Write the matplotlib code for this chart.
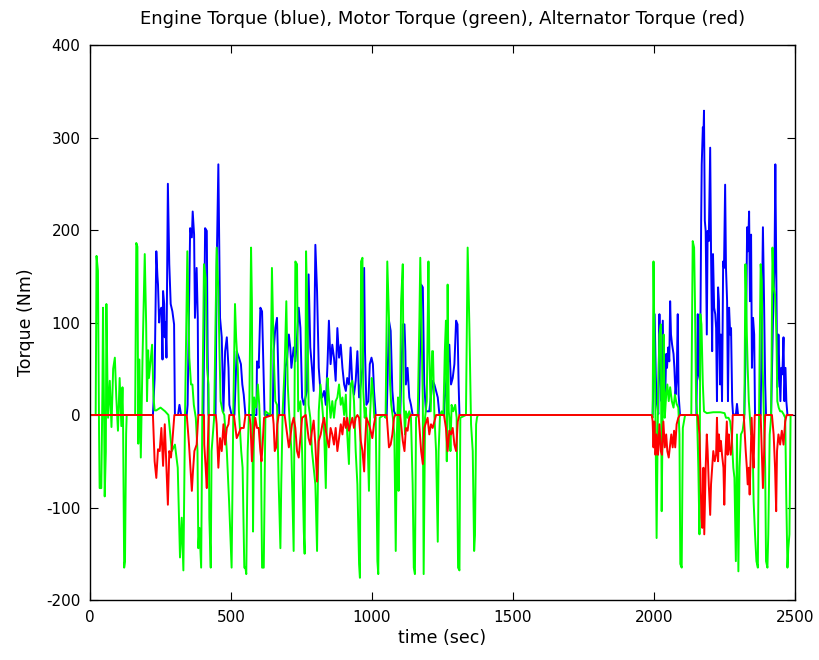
import matplotlib
matplotlib.use("Agg")
import matplotlib.pyplot as plt

plt.rcParams["axes.unicode_minus"] = False

# values (time in s, torque in Nm)
engine_t = [0, 222, 223, 229, 235, 239, 241, 245, 247, 253, 257, 259, 263, 265, 268, 271, 276,
            281, 286, 292, 298, 301, 312, 317, 323, 343, 346, 355, 361, 364, 369, 372, 378, 382,
            384, 402, 408, 414, 417, 420, 445, 449, 455, 461, 467, 473, 479, 485, 491, 494, 502,
            512, 520, 528, 535, 540, 545, 551, 590, 592, 598, 604, 610, 613, 619, 648, 651, 657,
            663, 667, 671, 689, 693, 699, 705, 710, 714, 722, 728, 734, 740, 746, 752, 758, 769,
            775, 781, 787, 793, 799, 805, 811, 817, 823, 830, 836, 842, 847, 853, 859, 865, 871,
            877, 883, 889, 895, 901, 907, 912, 918, 924, 930, 936, 942, 948, 954, 960, 966, 972,
            975, 980, 987, 992, 998, 1003, 1007, 1013, 1052, 1060, 1066, 1072, 1078, 1084, 1100,
            1103, 1109, 1115, 1118, 1120, 1126, 1132, 1138, 1144, 1165, 1168, 1174, 1180, 1185,
            1191, 1203, 1215, 1221, 1227, 1233, 1239, 1255, 1256, 1262, 1268, 1274, 1280, 1286,
            1292, 1298, 1303, 1307, 1310, 1995, 2002, 2006, 2009, 2015, 2019, 2022, 2026, 2031,
            2034, 2039, 2043, 2046, 2050, 2054, 2057, 2060, 2064, 2069, 2072, 2076, 2080, 2084,
            2087, 2092, 2150, 2155, 2158, 2163, 2167, 2169, 2173, 2175, 2177, 2180, 2183, 2187,
            2190, 2194, 2199, 2202, 2206, 2209, 2213, 2217, 2220, 2223, 2227, 2230, 2234, 2237,
            2241, 2245, 2248, 2252, 2255, 2259, 2262, 2266, 2270, 2273, 2277, 2280, 2290, 2294,
            2298, 2320, 2326, 2330, 2333, 2337, 2340, 2344, 2347, 2351, 2355, 2358, 2378, 2383,
            2386, 2390, 2394, 2397, 2415, 2423, 2427, 2430, 2434, 2437, 2441, 2444, 2448, 2451,
            2455, 2459, 2462, 2466, 2469, 2473, 2490]
engine_nm = [0, 0, 0, 40, 177, 150, 141, 100, 112, 116, 60, 134, 120, 84, 100, 62, 250,
             163, 120, 112, 98, 0, 0, 11, 0, 0, 11, 202, 192, 220, 195, 105, 159, 105,
             0, 0, 202, 199, 69, 0, 0, 159, 271, 105, 84, 4, 69, 84, 51, 11, 0,
             0, 69, 62, 55, 33, 22, 0, 0, 58, 51, 116, 112, 76, 0, 0, 69, 94,
             105, 51, 0, 0, 51, 62, 87, 73, 51, 73, 58, 84, 116, 94, 19, 11, 26,
             152, 73, 51, 26, 184, 134, 51, 26, 19, 26, 11, 55, 102, 55, 76, 62, 37,
             94, 62, 76, 51, 33, 26, 40, 33, 73, 33, 22, 37, 69, 19, 33, 51, 159,
             69, 11, 15, 55, 62, 55, 26, 0, 0, 102, 91, 26, 4, 0, 0,
             33, 98, 98, 69, 33, 51, 19, 11, 0, 0, 33, 141, 138, 33,
             4, 4, 37, 33, 26, 19, 0, 0, 11, 33, 51, 76, 33, 40,
             55, 102, 98, 33, 0, 0, 109, 44, 15, 1, 109, 51, 15, 102,
             33, 15, 66, 51, 73, 58, 123, 87, 76, 66, 51, 22, 37, 109,
             22, 0, 0, 109, 44, 37, 210, 271, 311, 300, 329, 210, 199, 87,
             199, 188, 289, 177, 69, 174, 116, 109, 94, 15, 138, 123, 33, 87,
             15, 166, 159, 249, 159, 123, 15, 116, 87, 94, 15, 1, 0, 12,
             0, 0, 87, 203, 177, 220, 123, 195, 51, 105, 87, 0, 0, 123,
             203, 123, 33, 0, 0, 123, 159, 271, 130, 30, 87, 51, 15, 51,
             44, 84, 15, 51, 15, 0, 0]

motor_t = [0, 20, 23, 28, 32, 34, 40, 44, 46, 50, 52, 56, 58, 62, 64, 70, 76, 82, 88, 93, 99,
           105, 111, 115, 117, 121, 124, 128, 130, 160, 164, 168, 171, 175, 180, 186, 194, 199,
           202, 206, 209, 214, 220, 225, 229, 235, 250, 266, 278, 290, 301, 311, 319, 325, 331,
           337, 345, 352, 358, 363, 368, 375, 381, 384, 388, 394, 398, 404, 410, 415, 420, 423,
           428, 431, 440, 449, 455, 459, 463, 470, 476, 485, 493, 502, 508, 514, 518, 524, 528,
           536, 541, 547, 551, 554, 559, 565, 571, 574, 578, 582, 589, 595, 600, 606, 610, 616,
           622, 639, 645, 651, 657, 663, 669, 675, 678, 683, 690, 696, 701, 707, 714, 722, 726,
           728, 734, 738, 746, 752, 758, 761, 766, 771, 775, 781, 787, 793, 799, 805, 811, 817,
           823, 830, 836, 842, 847, 853, 859, 865, 871, 877, 883, 889, 895, 901, 907, 912, 918,
           924, 930, 936, 942, 948, 954, 957, 961, 966, 969, 974, 977, 983, 989, 993, 999, 1003,
           1008, 1013, 1019, 1022, 1027, 1042, 1048, 1054, 1060, 1064, 1068, 1074, 1079, 1084,
           1088, 1092, 1094, 1099, 1103, 1109, 1112, 1117, 1120, 1126, 1132, 1138, 1144, 1148,
           1152, 1156, 1162, 1168, 1171, 1175, 1180, 1183, 1188, 1194, 1200, 1203, 1208, 1213,
           1216, 1221, 1227, 1233, 1236, 1241, 1247, 1253, 1258, 1262, 1265, 1268, 1272, 1274,
           1278, 1282, 1288, 1295, 1300, 1305, 1310, 1313, 1333, 1339, 1345, 1351, 1357, 1362,
           1365, 1369, 1372, 1375, 1992, 1995, 1998, 2001, 2005, 2009, 2014, 2019, 2024, 2027,
           2031, 2034, 2038, 2043, 2047, 2052, 2057, 2063, 2069, 2074, 2080, 2086, 2090, 2093,
           2098, 2102, 2110, 2132, 2137, 2142, 2145, 2149, 2152, 2157, 2161, 2164, 2168, 2173,
           2177, 2187, 2210, 2235, 2250, 2255, 2264, 2270, 2275, 2281, 2285, 2290, 2294, 2299,
           2303, 2308, 2314, 2320, 2324, 2329, 2332, 2336, 2339, 2344, 2349, 2353, 2358, 2363,
           2368, 2371, 2375, 2378, 2382, 2385, 2389, 2394, 2397, 2402, 2405, 2410, 2415, 2420,
           2424, 2429, 2434, 2437, 2442, 2447, 2453, 2459, 2465, 2469, 2473, 2476, 2480, 2484]
motor_nm = [0, 0, 172, 156, -20, -79, -79, 30, 116, -5, -88, -40, 120, 30, -3, 37, -13, 50, 62, 20, -17,
            40, -12, 30, -3, -165, -158, -20, 0, 0, 186, 182, -31, 60, -46, 60, 174, 98,
            15, 70, 40, 56, 76, 20, 5, 5, 8, 4, 0, -39, -32, -57, -154, -111, -168,
            4, 177, 62, 33, 33, 11, -3, -39, -144, -122, -165, -3, 163, 148, 51, 33, -111,
            -165, -39, -3, 181, 134, 69, 15, 4, 0, -39, -93, -165, 4, 120, 84, 51, 4,
            -39, -57, -165, -165, -172, -39, 15, 181, 123, -126, 19, 8, 33, 11, -39, -165, -165,
            4, 0, 159, 69, 15, 11, -75, -144, -75, 4, 51, 123, 33, -3, -39, -147, 69,
            166, 163, 4, 15, -39, -126, -150, 177, 105, 11, -3, -39, -57, -75, -147, 4, 33,
            11, -17, -79, 40, 19, -3, 15, -3, 15, 19, 33, 11, 19, 0, 22, -21, -53,
            33, 37, 15, -39, -75, -161, -176, 166, 170, 26, -3, 8, -14, -82, 0, 40, 26,
            -3, -3, -158, -172, -3, 0, -3, 166, 105, 33, 11, -3, -21, -147,
            -20, 19, -82, 4, 123, 163, 15, -21, 4, -3, 4, -3, -75, -165,
            -172, -3, 0, 105, 170, 105, 15, -172, -3, 15, 166, 69, 4, 69,
            69, 0, -39, -137, -39, 0, 4, 0, 69, 102, -50, 141, 4, -3,
            -39, 11, 4, 11, -3, -165, -168, -3, 0, 181, 98, -10, -39, -147,
            -130, -10, -3, 0, 0, -3, 166, 87, -3, -133, 15, 87, 98, -104,
            15, 87, -3, 22, 33, 15, 30, 15, 8, 22, 12, 8, -21, -161,
            -165, -14, 0, 0, 188, 181, 123, 15, 4, -57, -129, 109, 98, 33,
            4, 2, 3, 3, 2, -3, -3, -7, -21, -57, -68, -158, -21, -169,
            -57, -21, -17, -3, 163, 87, 51, 15, 1, -21, -21, -93, -129, -158,
            -165, -39, 87, 163, 145, 51, 1, -57, -158, -165, -129, -21, -3, 181,
            138, 130, 87, 15, 8, 4, 4, 1, -3, -93, -165, -144, -129, 0]

alt_t = [0, 222, 223, 229, 235, 241, 247, 253, 259, 265, 276, 281, 287, 292, 299, 343, 351, 356,
         361, 365, 370, 378, 384, 404, 405, 410, 414, 417, 421, 446, 449, 455, 461, 467, 473,
         479, 485, 491, 494, 510, 520, 526, 535, 545, 551, 565, 569, 574, 580, 586, 592, 598,
         604, 608, 612, 617, 648, 651, 655, 660, 664, 669, 690, 699, 705, 710, 716, 722, 728,
         734, 740, 746, 752, 765, 769, 775, 781, 787, 793, 799, 805, 811, 818, 824, 830, 836,
         842, 847, 853, 859, 865, 871, 877, 883, 889, 895, 901, 907, 912, 918, 924, 930, 936,
         942, 948, 954, 960, 966, 972, 975, 980, 989, 995, 1001, 1007, 1013, 1052, 1060, 1066,
         1072, 1078, 1082, 1100, 1103, 1109, 1115, 1120, 1126, 1132, 1138, 1165, 1174, 1180,
         1185, 1197, 1203, 1209, 1215, 1221, 1227, 1255, 1262, 1268, 1274, 1280, 1286, 1292,
         1298, 1304, 1310, 1992, 1995, 1998, 2001, 2005, 2009, 2014, 2019, 2024, 2028, 2033,
         2038, 2043, 2047, 2052, 2057, 2061, 2066, 2071, 2075, 2080, 2086, 2092, 2155, 2161,
         2164, 2168, 2171, 2175, 2178, 2183, 2187, 2190, 2194, 2199, 2202, 2206, 2210, 2215,
         2220, 2223, 2227, 2230, 2234, 2237, 2241, 2246, 2249, 2253, 2258, 2261, 2265, 2268,
         2272, 2275, 2279, 2318, 2325, 2329, 2332, 2336, 2339, 2343, 2346, 2350, 2353, 2357,
         2378, 2383, 2386, 2390, 2394, 2418, 2424, 2429, 2433, 2436, 2441, 2447, 2453, 2459,
         2465, 2470, 2490]
alt_nm = [0, 0, 0, -50, -68, -37, -39, -14, -55, -10, -97, -39, -46, -28, 0, 0, -32, -57,
          -82, -61, -39, -32, 0, 0, -32, -57, -79, -39, 0, 0, -10, -57, -25, -39, -10,
          -32, -14, -10, 0, 0, -25, -21, -14, -14, 0, 0, -10, -50, -21, -3, -14, -14,
          -39, -50, -32, -3, 0, -10, -39, -35, -10, 0, 0, -21, -35, -25, -10, -3, -14,
          -39, -46, -25, -3, 0, -10, -25, -32, -17, -6, -32, -72, -28, -21, -10, -3, -17,
          -28, -35, -14, -21, -32, -14, -39, -25, -10, -21, -3, -14, -3, -17, -10, -3, -14,
          -3, 0, -3, -28, -39, -61, -32, -3, -10, -17, -25, -10, 0, 0, -35, -32,
          -21, -3, 0, 0, -10, -28, -39, -14, -17, -3, 0, 0, -39, -53,
          -14, -3, -21, -10, -14, -7, 0, 0, -14, -39, -17, -21, -14, -32,
          -39, -7, 0, 0, -7, -35, -7, -43, -21, -43, -10, -39, -43, -7,
          -35, -21, -39, -46, -32, -21, -35, -17, -35, -10, -3, 0, 0, -21,
          -57, -111, -122, -57, -129, -57, -21, -39, -75, -108, -75, -57, -39, -50,
          -43, -3, -50, -21, -39, -28, -43, -57, -97, -43, -7, -43, -21, -35,
          -43, -35, 0, 0, -39, -57, -75, -57, -86, -39, -3, -39, -57, 0,
          0, -50, -79, -43, 0, 0, -21, -57, -104, -39, -21, -32, -17, -32,
          -7, 0, 0]

fig = plt.figure(figsize=(8.2, 6.6), dpi=100)
ax = fig.add_axes([0.1098, 0.0909, 0.8598, 0.8409])

ax.plot(engine_t, engine_nm, color=(0, 0, 1), lw=1.4)
ax.plot(motor_t, motor_nm, color=(0, 1, 0), lw=1.4)
ax.plot(alt_t, alt_nm, color=(1, 0, 0), lw=1.4)

ax.set_xlim(0, 2500)
ax.set_ylim(-200, 400)
ax.set_xticks(range(0, 2501, 500))
ax.set_yticks(range(-200, 401, 100))
ax.tick_params(direction="in", length=6, width=0.8, top=True, right=True, labelsize=11, pad=7)
for s in ax.spines.values():
    s.set_linewidth(1.0)

ax.set_title("Engine Torque (blue), Motor Torque (green), Alternator Torque (red)",
             fontsize=13, pad=15)
ax.set_xlabel("time (sec)", fontsize=12.5, labelpad=3)
ax.set_ylabel("Torque (Nm)", fontsize=12.5, labelpad=8)

fig.savefig("out.png", dpi=100)
